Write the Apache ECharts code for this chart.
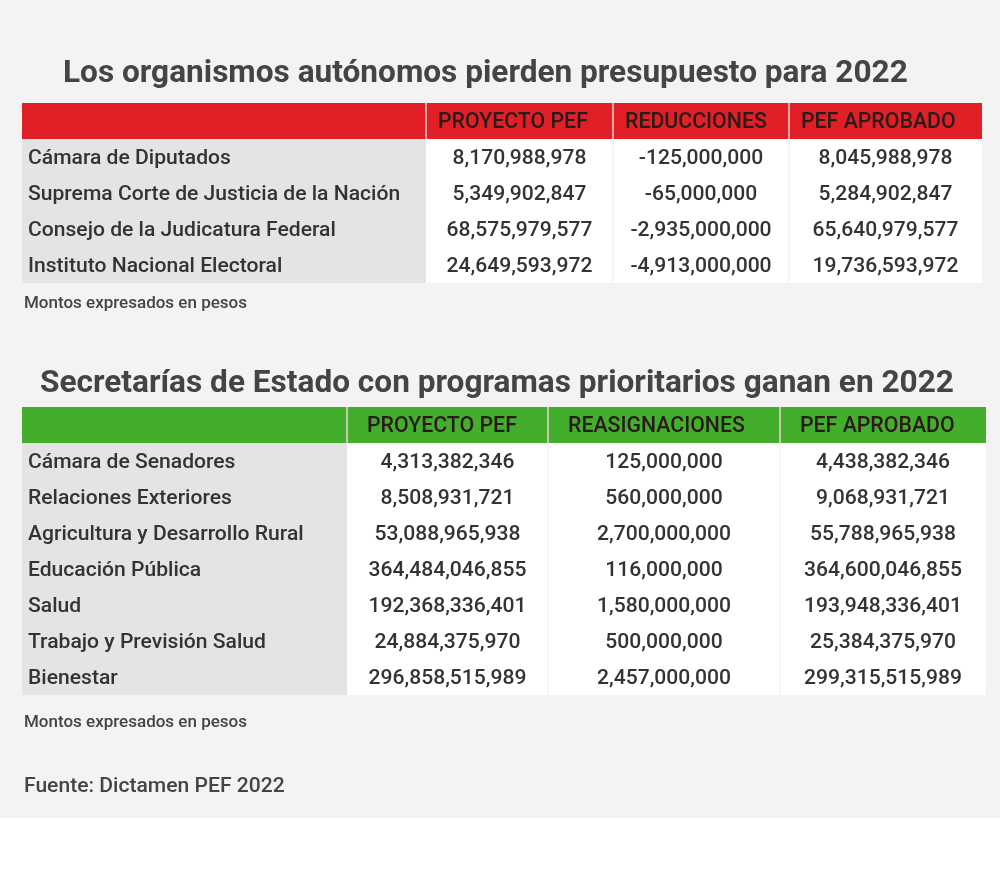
<!DOCTYPE html>
<html><head><meta charset="utf-8">
<script src="https://cdn.jsdelivr.net/npm/echarts@6/dist/echarts.min.js"></script>
<style>
html,body{margin:0;padding:0;background:#fff;}
#bg{position:absolute;left:0;top:0;width:1000px;height:818px;background:#f3f3f3;}
#chart{position:absolute;left:0;top:0;width:1000px;height:881px;}
</style></head><body>
<div id="bg"></div><div id="chart"></div>
<script>
// ---- data ----
const title1 = 'Los organismos autónomos pierden presupuesto para 2022';
const headers1 = ['', 'PROYECTO PEF', 'REDUCCIONES', 'PEF APROBADO'];
const entities1 = ['Cámara de Diputados', 'Suprema Corte de Justicia de la Nación', 'Consejo de la Judicatura Federal', 'Instituto Nacional Electoral'];
const proyecto1 = [8170988978, 5349902847, 68575979577, 24649593972];
const reducciones1 = [-125000000, -65000000, -2935000000, -4913000000];
const aprobado1 = [8045988978, 5284902847, 65640979577, 19736593972];

const title2 = 'Secretarías de Estado con programas prioritarios ganan en 2022';
const headers2 = ['', 'PROYECTO PEF', 'REASIGNACIONES', 'PEF APROBADO'];
const entities2 = ['Cámara de Senadores', 'Relaciones Exteriores', 'Agricultura y Desarrollo Rural', 'Educación Pública', 'Salud', 'Trabajo y Previsión Salud', 'Bienestar'];
const proyecto2 = [4313382346, 8508931721, 53088965938, 364484046855, 192368336401, 24884375970, 296858515989];
const reasignaciones2 = [125000000, 560000000, 2700000000, 116000000, 1580000000, 500000000, 2457000000];
const aprobado2 = [4438382346, 9068931721, 55788965938, 364600046855, 193948336401, 25384375970, 299315515989];

const noteText = 'Montos expresados en pesos';
const sourceText = 'Fuente: Dictamen PEF 2022';

// ---- layout (not data) ----
const FONT = 'Roboto';
const L1 = {left: 22, top: 103, width: 960, rowH: 36, edges: [0, 404, 591, 767, 960], head: '#e11f26', pad: 12};
const L2 = {left: 22, top: 407, width: 964, rowH: 36, edges: [0, 325, 526, 758, 964], head: '#43ae2c', pad: 20};

const fmt = v => v.toLocaleString('en-US');

function buildTable(headers, entities, cols) {
  const rows = [headers.slice()];
  entities.forEach((name, i) => rows.push([name].concat(cols.map(a => fmt(a[i])))));
  return rows;
}
const table1 = buildTable(headers1, entities1, [proyecto1, reducciones1, aprobado1]);
const table2 = buildTable(headers2, entities2, [proyecto2, reasignaciones2, aprobado2]);

function cellData(rows) {
  const d = [];
  rows.forEach((row, r) => row.forEach((t, c) => d.push([c, r])));
  return d;
}

function makeRender(rows, L) {
  return function (params, api) {
    const c = api.value(0), r = api.value(1);
    const p0 = api.coord([L.edges[c], r]);
    const p1 = api.coord([L.edges[c + 1], r]);
    const h = api.size([0, 1])[1];
    const x0 = p0[0], x1 = p1[0], yc = p0[1], y0 = yc - h / 2;
    const isHead = r === 0;
    const fill = isHead ? L.head : (c === 0 ? '#e4e4e4' : '#ffffff');
    const children = [{
      type: 'rect', shape: {x: x0, y: y0, width: x1 - x0, height: h},
      style: {fill: fill}
    }];
    if (isHead && c >= 1) {
      children.push({type: 'line', shape: {x1: x0, y1: y0, x2: x0, y2: y0 + h}, style: {stroke: '#f4d0d0', lineWidth: 1.5}});
    }
    if (!isHead && c >= 2) {
      children.push({type: 'line', shape: {x1: x0, y1: y0, x2: x0, y2: y0 + h}, style: {stroke: '#ededed', lineWidth: 1}});
    }
    const text = rows[r][c];
    if (text) {
      let tx, align;
      if (isHead) { tx = x0 + L.pad; align = 'left'; }
      else if (c === 0) { tx = x0 + 6; align = 'left'; }
      else { tx = (x0 + x1) / 2; align = 'center'; }
      children.push({
        type: 'text',
        style: {
          text: text, x: tx, y: yc + 1.5, align: align, verticalAlign: 'middle',
          fontSize: isHead ? 21.3 : 21.1, fontFamily: FONT, fontWeight: 500,
          fill: isHead ? '#2b1a1a' : '#333333'
        }
      });
    }
    return {type: 'group', children: children};
  };
}

const chart = echarts.init(document.getElementById('chart'), null, {renderer: 'canvas'});
const titleStyle = (size, weight) => ({fontSize: size, fontWeight: weight, color: '#444444', fontFamily: FONT});
chart.setOption({
  animation: false,
  backgroundColor: 'transparent',
  title: [
    {text: title1, left: 63, top: 58, padding: 0, textStyle: titleStyle(31.6, 'bold')},
    {text: title2, left: 40, top: 368, padding: 0, textStyle: titleStyle(31.6, 'bold')},
    {text: noteText, left: 24, top: 295, padding: 0, textStyle: titleStyle(17, 500)},
    {text: noteText, left: 24, top: 714, padding: 0, textStyle: titleStyle(17, 500)},
    {text: sourceText, left: 24, top: 776, padding: 0, textStyle: titleStyle(21.1, 500)}
  ],
  grid: [
    {left: L1.left, top: L1.top, width: L1.width, height: L1.rowH * table1.length},
    {left: L2.left, top: L2.top, width: L2.width, height: L2.rowH * table2.length}
  ],
  xAxis: [
    {type: 'value', gridIndex: 0, min: 0, max: L1.width, show: false, splitLine: {show: false}},
    {type: 'value', gridIndex: 1, min: 0, max: L2.width, show: false, splitLine: {show: false}}
  ],
  yAxis: [
    {type: 'category', gridIndex: 0, data: ['h'].concat(entities1), inverse: true, show: false},
    {type: 'category', gridIndex: 1, data: ['h'].concat(entities2), inverse: true, show: false}
  ],
  series: [
    {type: 'custom', xAxisIndex: 0, yAxisIndex: 0, data: cellData(table1), renderItem: makeRender(table1, L1), clip: false, encode: {x: 0, y: 1}, silent: true},
    {type: 'custom', xAxisIndex: 1, yAxisIndex: 1, data: cellData(table2), renderItem: makeRender(table2, L2), clip: false, encode: {x: 0, y: 1}, silent: true}
  ]
});
</script>
</body></html>
